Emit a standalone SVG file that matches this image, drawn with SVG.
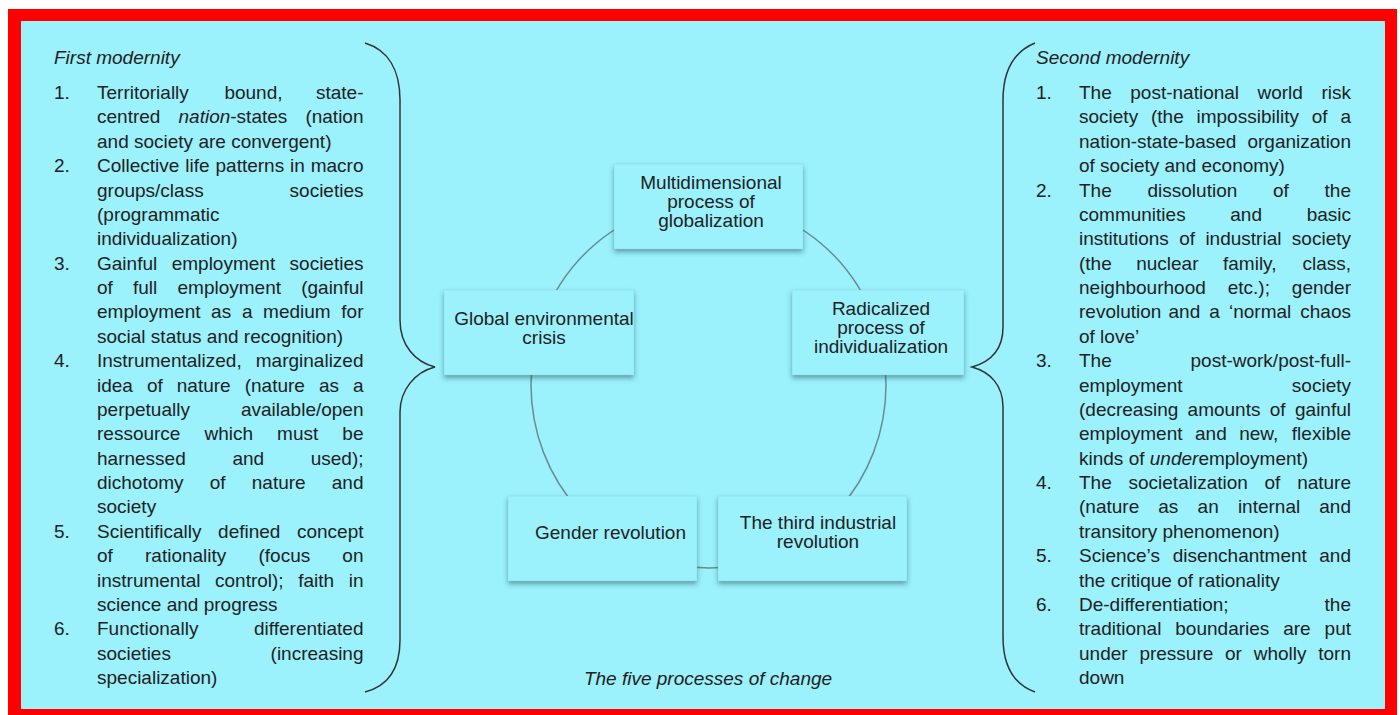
<svg xmlns="http://www.w3.org/2000/svg" width="1400" height="715" viewBox="0 0 1400 715">
  <defs>
    <style>
      .t { font-family: "Liberation Sans", Arial, sans-serif; font-size: 19px; fill: #222; }
      .i { font-style: italic; }
      .e { text-anchor: end; }
      .c { text-anchor: middle; }
      .box { fill: #9bf1fc; stroke: #6fb6c2; stroke-opacity: 0.2; stroke-width: 1; filter: url(#shadow); }
      .brace { fill: none; stroke: #333; stroke-width: 1.5; }
      .cycle { fill: none; stroke: #6a8b91; stroke-width: 1.5; }
    </style>
    <filter id="shadow" x="-10%" y="-10%" width="120%" height="130%">
      <feDropShadow dx="0" dy="3" stdDeviation="2.4" flood-color="#1e4a54" flood-opacity="0.5"/>
    </filter>
  </defs>

  <!-- frame -->
  <rect x="0" y="0" width="1400" height="715" fill="#ffffff"/>
  <rect x="8" y="9" width="1389" height="710" fill="#ff0000"/>
  <rect x="21" y="21" width="1364" height="688" fill="#9bf1fc"/>

  <!-- braces -->
  <g id="braces">
    <path class="brace" d="M365,43 C388,50 400,70 400,100 L400,320 C400,345 415,362 435,367 C415,372 400,390 400,412 L400,640 C400,670 388,686 365,692"/>
    <path class="brace" d="M1035,43 C1013,52 1003,72 1003,100 L1003,327 C1003,350 990,362 972,367 C990,372 1003,385 1003,407 L1003,637 C1003,665 1013,684 1035,692"/>
  </g>

  <!-- first modernity list -->
  <g id="first-modernity" class="t">
    <text class="i" x="54" y="64">First modernity</text>
    <text x="54" y="99">1.</text>
    <text x="54" y="172.1">2.</text>
    <text x="54" y="269.6">3.</text>
    <text x="54" y="367.1">4.</text>
    <text x="54" y="537.75">5.</text>
    <text x="54" y="635.25">6.</text>

    <text y="99"><tspan x="97">Territorially</tspan><tspan x="224.4">bound,</tspan><tspan class="e" x="363.5">state-</tspan></text>
    <text y="123.4"><tspan x="97">centred</tspan><tspan x="178.5"><tspan class="i">nation</tspan>-states</tspan><tspan class="e" x="363.5">(nation</tspan></text>
    <text x="97" y="147.75">and society are convergent)</text>
    <text y="172.1"><tspan x="97">Collective</tspan><tspan x="185.3">life</tspan><tspan x="215.5">patterns</tspan><tspan x="290">in</tspan><tspan class="e" x="363.5">macro</tspan></text>
    <text y="196.5"><tspan x="97">groups/class</tspan><tspan class="e" x="363.5">societies</tspan></text>
    <text x="97" y="220.9">(programmatic</text>
    <text x="97" y="245.25">individualization)</text>
    <text y="269.6"><tspan x="97">Gainful</tspan><tspan x="171.7">employment</tspan><tspan class="e" x="363.5">societies</tspan></text>
    <text y="294"><tspan x="97">of</tspan><tspan x="133">full</tspan><tspan x="177.5">employment</tspan><tspan class="e" x="363.5">(gainful</tspan></text>
    <text y="318.4"><tspan x="97">employment</tspan><tspan x="211.1">as</tspan><tspan x="241.9">a</tspan><tspan x="263.1">medium</tspan><tspan class="e" x="363.5">for</tspan></text>
    <text x="97" y="342.75">social status and recognition)</text>
    <text y="367.1"><tspan x="97">Instrumentalized,</tspan><tspan class="e" x="363.5">marginalized</tspan></text>
    <text y="391.5"><tspan x="97">idea</tspan><tspan x="146.9">of</tspan><tspan x="176.8">nature</tspan><tspan x="244.7">(nature</tspan><tspan x="318.9">as</tspan><tspan class="e" x="363.5">a</tspan></text>
    <text y="415.9"><tspan x="97">perpetually</tspan><tspan class="e" x="363.5">available/open</tspan></text>
    <text y="440.25"><tspan x="97">ressource</tspan><tspan x="204.5">which</tspan><tspan x="277.1">must</tspan><tspan class="e" x="363.5">be</tspan></text>
    <text y="464.6"><tspan x="97">harnessed</tspan><tspan x="232.4">and</tspan><tspan class="e" x="363.5">used);</tspan></text>
    <text y="489"><tspan x="97">dichotomy</tspan><tspan x="209.8">of</tspan><tspan x="251.8">nature</tspan><tspan class="e" x="363.5">and</tspan></text>
    <text x="97" y="513.4">society</text>
    <text y="537.75"><tspan x="97">Scientifically</tspan><tspan x="218.1">defined</tspan><tspan class="e" x="363.5">concept</tspan></text>
    <text y="562.1"><tspan x="97">of</tspan><tspan x="145">rationality</tspan><tspan x="258.5">(focus</tspan><tspan class="e" x="363.5">on</tspan></text>
    <text y="586.5"><tspan x="97">instrumental</tspan><tspan x="215">control);</tspan><tspan x="298.2">faith</tspan><tspan class="e" x="363.5">in</tspan></text>
    <text x="97" y="610.9">science and progress</text>
    <text y="635.25"><tspan x="97">Functionally</tspan><tspan class="e" x="363.5">differentiated</tspan></text>
    <text y="659.6"><tspan x="97">societies</tspan><tspan class="e" x="363.5">(increasing</tspan></text>
    <text x="97" y="684">specialization)</text>
  </g>

  <!-- second modernity list -->
  <g id="second-modernity" class="t">
    <text class="i" x="1036" y="64">Second modernity</text>
    <text x="1036" y="99">1.</text>
    <text x="1036" y="196.5">2.</text>
    <text x="1036" y="367.1">3.</text>
    <text x="1036" y="489">4.</text>
    <text x="1036" y="562.1">5.</text>
    <text x="1036" y="610.9">6.</text>

    <text y="99"><tspan x="1079">The</tspan><tspan x="1130.3">post-national</tspan><tspan x="1257.5">world</tspan><tspan class="e" x="1351">risk</tspan></text>
    <text y="123.4"><tspan x="1079">society</tspan><tspan x="1151">(the</tspan><tspan x="1196.5">impossibility</tspan><tspan x="1311.8">of</tspan><tspan class="e" x="1351">a</tspan></text>
    <text y="147.75"><tspan x="1079">nation-state-based</tspan><tspan class="e" x="1351">organization</tspan></text>
    <text x="1079" y="172.1">of society and economy)</text>
    <text y="196.5"><tspan x="1079">The</tspan><tspan x="1147.5">dissolution</tspan><tspan x="1273">of</tspan><tspan class="e" x="1351">the</tspan></text>
    <text y="220.9"><tspan x="1079">communities</tspan><tspan x="1230.3">and</tspan><tspan class="e" x="1351">basic</tspan></text>
    <text y="245.25"><tspan x="1079">institutions</tspan><tspan x="1179.2">of</tspan><tspan x="1205.4">industrial</tspan><tspan class="e" x="1351">society</tspan></text>
    <text y="269.6"><tspan x="1079">(the</tspan><tspan x="1136.2">nuclear</tspan><tspan x="1223">family,</tspan><tspan class="e" x="1351">class,</tspan></text>
    <text y="294"><tspan x="1079">neighbourhood</tspan><tspan x="1227.7">etc.);</tspan><tspan class="e" x="1351">gender</tspan></text>
    <text y="318.4"><tspan x="1079">revolution</tspan><tspan x="1168.5">and</tspan><tspan x="1209.3">a</tspan><tspan x="1229">‘normal</tspan><tspan class="e" x="1351">chaos</tspan></text>
    <text x="1079" y="342.75">of love’</text>
    <text y="367.1"><tspan x="1079">The</tspan><tspan class="e" x="1351">post-work/post-full-</tspan></text>
    <text y="391.5"><tspan x="1079">employment</tspan><tspan class="e" x="1351">society</tspan></text>
    <text y="415.9"><tspan x="1079">(decreasing</tspan><tspan x="1187.6">amounts</tspan><tspan x="1269.8">of</tspan><tspan class="e" x="1351">gainful</tspan></text>
    <text y="440.25"><tspan x="1079">employment</tspan><tspan x="1195">and</tspan><tspan x="1239.2">new,</tspan><tspan class="e" x="1351">flexible</tspan></text>
    <text x="1079" y="464.6">kinds of <tspan class="i">under</tspan>employment)</text>
    <text y="489"><tspan x="1079">The</tspan><tspan x="1128.5">societalization</tspan><tspan x="1264.5">of</tspan><tspan class="e" x="1351">nature</tspan></text>
    <text y="513.4"><tspan x="1079">(nature</tspan><tspan x="1158.3">as</tspan><tspan x="1197.6">an</tspan><tspan x="1237.9">internal</tspan><tspan class="e" x="1351">and</tspan></text>
    <text x="1079" y="537.75">transitory phenomenon)</text>
    <text y="562.1"><tspan x="1079">Science’s</tspan><tspan x="1172.7">disenchantment</tspan><tspan class="e" x="1351">and</tspan></text>
    <text x="1079" y="586.5">the critique of rationality</text>
    <text y="610.9"><tspan x="1079">De-differentiation;</tspan><tspan class="e" x="1351">the</tspan></text>
    <text y="635.25"><tspan x="1079">traditional</tspan><tspan x="1175.3">boundaries</tspan><tspan x="1283.2">are</tspan><tspan class="e" x="1351">put</tspan></text>
    <text y="659.6"><tspan x="1079">under</tspan><tspan x="1139.4">pressure</tspan><tspan x="1225">or</tspan><tspan x="1253.7">wholly</tspan><tspan class="e" x="1351">torn</tspan></text>
    <text x="1079" y="684">down</text>
  </g>

  <!-- cycle connector behind the five process boxes -->
  <g id="connectors">
    <ellipse class="cycle" cx="708.5" cy="385" rx="177.5" ry="183"/>
  </g>

  <!-- process nodes -->
  <g id="node-globalization">
    <rect class="box" x="614" y="164" width="189" height="85"/>
    <text class="t c"><tspan x="711" y="189">Multidimensional</tspan><tspan x="711" y="208">process of</tspan><tspan x="711" y="227">globalization</tspan></text>
  </g>
  <g id="node-environment">
    <rect class="box" x="444" y="290" width="190" height="85"/>
    <text class="t c"><tspan x="544" y="325">Global environmental</tspan><tspan x="544" y="344">crisis</tspan></text>
  </g>
  <g id="node-individualization">
    <rect class="box" x="792" y="290" width="172" height="85"/>
    <text class="t c"><tspan x="881" y="315">Radicalized</tspan><tspan x="881" y="334">process of</tspan><tspan x="881" y="353">individualization</tspan></text>
  </g>
  <g id="node-gender">
    <rect class="box" x="508" y="496" width="189" height="85"/>
    <text class="t c" x="610.5" y="539">Gender revolution</text>
  </g>
  <g id="node-industrial">
    <rect class="box" x="718" y="496" width="189" height="85"/>
    <text class="t c"><tspan x="818" y="529">The third industrial</tspan><tspan x="818" y="548">revolution</tspan></text>
  </g>

  <!-- caption -->
  <text class="t i c" x="708" y="685">The five processes of change</text>
</svg>
